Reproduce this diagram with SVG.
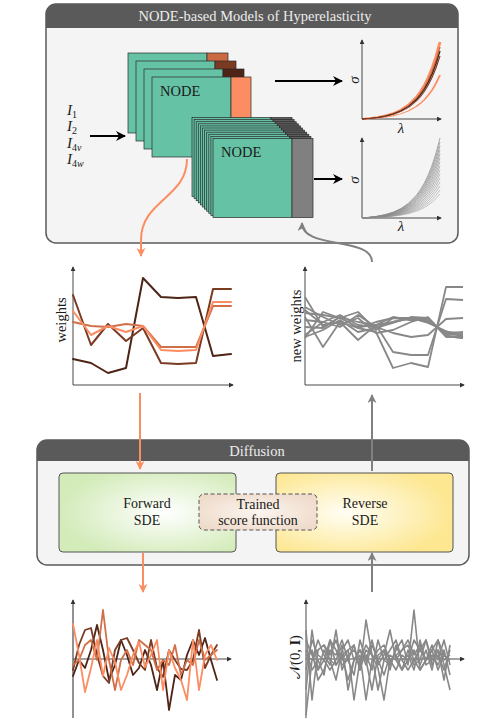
<svg xmlns="http://www.w3.org/2000/svg" xmlns:xlink="http://www.w3.org/1999/xlink" width="480" height="728" viewBox="0 0 480 728">
<style>
text{font-family:"Liberation Serif","DejaVu Serif",serif;fill:#1a1a1a}
.hdr{fill:#ececec;font-size:14.5px}
.panel{fill:#f4f4f4;stroke:#5a5a5a;stroke-width:1.5}
.hbar{fill:#5a5a5a}
.card{fill:#66c2a5;stroke:#2a2a2a;stroke-width:0.7}
.strip{stroke:#2a2a2a;stroke-width:0.7}
.axis{fill:none;stroke:#333;stroke-width:0.9}
.lbl{font-size:14.5px}
.sym{font-size:15px;font-style:italic}
.inp{font-size:15px;font-style:italic}
.sub{font-size:10px}
.ln{fill:none;stroke-linejoin:round;stroke-linecap:round}
.gw{fill:none;stroke:#888;stroke-width:1.8;stroke-linejoin:round}
.gn{fill:none;stroke:#888;stroke-width:1.6;stroke-linejoin:round}
.ex{fill:none;vector-effect:non-scaling-stroke}
.box{stroke:#555;stroke-width:1}
.btxt{font-size:14px;text-anchor:middle}
</style>
<defs>
<marker id="ab" viewBox="0 0 10 10" refX="9" refY="5" markerWidth="10" markerHeight="10" markerUnits="userSpaceOnUse" orient="auto"><path d="M0,0 L10,5 L0,10 L3,5 z" fill="#000"/></marker>
<marker id="ao" viewBox="0 0 10 10" refX="9" refY="5" markerWidth="9" markerHeight="9" markerUnits="userSpaceOnUse" orient="auto"><path d="M0,0 L10,5 L0,10 L3,5 z" fill="#fc8d62"/></marker>
<marker id="ag" viewBox="0 0 10 10" refX="9" refY="5" markerWidth="9" markerHeight="9" markerUnits="userSpaceOnUse" orient="auto"><path d="M0,0 L10,5 L0,10 L3,5 z" fill="#808080"/></marker>
<marker id="ax" viewBox="0 0 6 6" refX="5" refY="3" markerWidth="5" markerHeight="5" markerUnits="userSpaceOnUse" orient="auto"><path d="M0,0 L6,3 L0,6 z" fill="#333"/></marker>
<path id="exp" d="M0,0 L7.8,-0.918 L15.6,-2.287 L23.4,-4.329 L31.2,-7.375 L39,-11.92 L46.8,-18.70 L54.6,-28.82 L58.5,-35.61 L62.4,-43.91 L66.3,-54.04 L70.2,-66.42 L74.1,-81.53 L78,-100"/>
<radialGradient id="gF" cx="0.6" cy="0.5" r="0.6"><stop offset="0" stop-color="#ffffff"/><stop offset="1" stop-color="#d3ebb9"/></radialGradient>
<radialGradient id="gR" cx="0.4" cy="0.5" r="0.6"><stop offset="0" stop-color="#fffef5"/><stop offset="1" stop-color="#fde791"/></radialGradient>
<radialGradient id="gT" cx="0.5" cy="0.5" r="0.6"><stop offset="0" stop-color="#fbf5ef"/><stop offset="1" stop-color="#efdbca"/></radialGradient>
</defs>

<g id="panel-node">
<rect class="panel" x="46" y="4" width="412" height="239" rx="10"/>
<path class="hbar" d="M46,28 L46,14 A10,10 0 0 1 56,4 L448,4 A10,10 0 0 1 458,14 L458,28 Z"/>
<text class="hdr" x="255" y="21" text-anchor="middle">NODE-based Models of Hyperelasticity</text>
</g>

<g id="inputs">
<text class="inp" x="67" y="115">I<tspan class="sub" font-style="normal" dy="3">1</tspan></text>
<text class="inp" x="67" y="131">I<tspan class="sub" font-style="normal" dy="3">2</tspan></text>
<text class="inp" x="67" y="148">I<tspan class="sub" font-style="normal" dy="3">4</tspan><tspan class="sub">v</tspan></text>
<text class="inp" x="67" y="164">I<tspan class="sub" font-style="normal" dy="3">4</tspan><tspan class="sub">w</tspan></text>
</g>

<g id="node-stack-trained">
<rect class="card" x="128" y="53" width="79" height="80"/><rect class="strip" x="207" y="53" width="21" height="80" fill="#c96a43"/>
<rect class="card" x="136" y="61" width="79" height="80"/><rect class="strip" x="215" y="61" width="21" height="80" fill="#7b3b22"/>
<rect class="card" x="144" y="69" width="79" height="80"/><rect class="strip" x="223" y="69" width="21" height="80" fill="#4e2416"/>
<rect class="card" x="152" y="77" width="79" height="80"/><rect class="strip" x="231" y="77" width="20" height="80" fill="#fc8d62"/>
<text x="160" y="96" font-size="14.5">NODE</text>
</g>

<g id="node-stack-generated">
<rect class="card" x="192" y="117.5" width="79" height="79"/><rect class="strip" x="271" y="117.5" width="21" height="79" fill="#5e5e5e"/>
<rect class="card" x="194.1" y="119.6" width="79" height="79"/><rect class="strip" x="273.1" y="119.6" width="21" height="79" fill="#5e5e5e"/>
<rect class="card" x="196.2" y="121.7" width="79" height="79"/><rect class="strip" x="275.2" y="121.7" width="21" height="79" fill="#5e5e5e"/>
<rect class="card" x="198.3" y="123.8" width="79" height="79"/><rect class="strip" x="277.3" y="123.8" width="21" height="79" fill="#5e5e5e"/>
<rect class="card" x="200.4" y="125.9" width="79" height="79"/><rect class="strip" x="279.4" y="125.9" width="21" height="79" fill="#5e5e5e"/>
<rect class="card" x="202.5" y="128" width="79" height="79"/><rect class="strip" x="281.5" y="128" width="21" height="79" fill="#5e5e5e"/>
<rect class="card" x="204.6" y="130.1" width="79" height="79"/><rect class="strip" x="283.6" y="130.1" width="21" height="79" fill="#5e5e5e"/>
<rect class="card" x="206.7" y="132.2" width="79" height="79"/><rect class="strip" x="285.7" y="132.2" width="21" height="79" fill="#5e5e5e"/>
<rect class="card" x="208.8" y="134.3" width="79" height="79"/><rect class="strip" x="287.8" y="134.3" width="21" height="79" fill="#5e5e5e"/>
<rect class="card" x="210.9" y="136.4" width="79" height="79"/><rect class="strip" x="289.9" y="136.4" width="21" height="79" fill="#5e5e5e"/>
<rect class="card" x="213" y="138.5" width="79" height="79"/><rect class="strip" x="292" y="138.5" width="21" height="79" fill="#808080"/>
<text x="221" y="157" font-size="14.5">NODE</text>
</g>

<g id="plot-stress-trained">
<line class="axis" x1="362" y1="119" x2="362" y2="40" marker-end="url(#ax)"/>
<line class="axis" x1="362" y1="119" x2="441" y2="119" marker-end="url(#ax)"/>
<use href="#exp" class="ex" stroke="#fc8d62" stroke-width="2" transform="translate(362,119) scale(1,0.44)"/>
<use href="#exp" class="ex" stroke="#fc8d62" stroke-width="2.8" transform="translate(362,119) scale(1,0.77)"/>
<use href="#exp" class="ex" stroke="#c96a43" stroke-width="1.3" transform="translate(362,119) scale(1,0.72)"/>
<use href="#exp" class="ex" stroke="#4e2416" stroke-width="1.4" transform="translate(362,119) scale(1,0.68)"/>
<use href="#exp" class="ex" stroke="#7b3b22" stroke-width="1.2" transform="translate(362,119) scale(1,0.63)"/>
<text class="sym" transform="translate(359,80) rotate(-90)" text-anchor="middle">σ</text>
<text class="sym" x="401" y="133" text-anchor="middle">λ</text>
</g>

<g id="plot-stress-generated">
<line class="axis" x1="362" y1="218" x2="362" y2="138" marker-end="url(#ax)"/>
<line class="axis" x1="362" y1="218" x2="441" y2="218" marker-end="url(#ax)"/>
<g stroke="#8a8a8a" stroke-width="0.8">
<use href="#exp" class="ex" transform="translate(362,218) scale(1,0.80)"/>
<use href="#exp" class="ex" transform="translate(362,218) scale(1,0.76)"/>
<use href="#exp" class="ex" transform="translate(362,218) scale(1,0.72)"/>
<use href="#exp" class="ex" transform="translate(362,218) scale(1,0.68)"/>
<use href="#exp" class="ex" transform="translate(362,218) scale(1,0.64)"/>
<use href="#exp" class="ex" transform="translate(362,218) scale(1,0.60)"/>
<use href="#exp" class="ex" transform="translate(362,218) scale(1,0.56)"/>
<use href="#exp" class="ex" transform="translate(362,218) scale(1,0.52)"/>
<use href="#exp" class="ex" transform="translate(362,218) scale(1,0.48)"/>
<use href="#exp" class="ex" transform="translate(362,218) scale(1,0.44)"/>
<use href="#exp" class="ex" transform="translate(362,218) scale(1,0.40)"/>
<use href="#exp" class="ex" transform="translate(362,218) scale(1,0.36)"/>
<use href="#exp" class="ex" transform="translate(362,218) scale(1,0.32)"/>
<use href="#exp" class="ex" transform="translate(362,218) scale(1,0.28)"/>
<use href="#exp" class="ex" transform="translate(362,218) scale(1,0.24)"/>
</g>
<text class="sym" transform="translate(359,180) rotate(-90)" text-anchor="middle">σ</text>
<text class="sym" x="401" y="231" text-anchor="middle">λ</text>
</g>

<g id="plot-weights">
<line class="axis" x1="73" y1="385" x2="73" y2="267" marker-end="url(#ax)"/>
<line class="axis" x1="73" y1="385" x2="233" y2="385" marker-end="url(#ax)"/>
<polyline class="ln" stroke="#4e2416" stroke-width="2" points="73,359 91,363 108,373 126,368 143,278 161,297 178,298 196,297 213,356 231,354"/>
<polyline class="ln" stroke="#7b3b22" stroke-width="2" points="73,295 91,345 108,324 126,341 143,328 161,363 178,364 196,363 213,289 231,289"/>
<polyline class="ln" stroke="#d06f48" stroke-width="2" points="73,322 91,326 108,327 126,324 143,326 161,347 178,347 196,347 213,306 231,306"/>
<polyline class="ln" stroke="#fc8d62" stroke-width="2" points="73,311 91,335 108,326 126,332 143,326 161,350 178,351 196,350 213,302 231,302"/>
<text class="lbl" transform="translate(66,320) rotate(-90)" text-anchor="middle">weights</text>
</g>

<g id="plot-new-weights">
<line class="axis" x1="305" y1="385" x2="305" y2="267" marker-end="url(#ax)"/>
<line class="axis" x1="305" y1="385" x2="464" y2="385" marker-end="url(#ax)"/>
<polyline class="gw" points="305,297 323,327 340,317 358,322 376,325 393,317 411,320 428,318 446,336 463,338"/>
<polyline class="gw" points="305,338 323,312 340,318 358,312 376,330 393,318 411,318 428,320 446,334 463,335"/>
<polyline class="gw" points="305,317 323,347 340,322 358,340 376,325 393,352 411,355 428,355 446,299 463,300"/>
<polyline class="gw" points="305,310 323,325 340,322 358,328 376,332 393,368 411,363 428,367 446,287 463,287"/>
<polyline class="gw" points="305,320 323,322 340,315 358,325 376,327 393,333 411,337 428,335 446,319 463,318"/>
<polyline class="gw" points="305,307 323,317 340,325 358,318 376,333 393,330 411,322 428,317 446,337 463,336"/>
<polyline class="gw" points="305,335 323,322 340,327 358,315 376,327 393,322 411,318 428,322 446,332 463,333"/>
<polyline class="gw" points="305,327 323,328 340,317 358,328 376,322 393,318 411,320 428,320 446,334 463,332"/>
<polyline class="gw" points="305,313 323,315 340,318 358,327 376,325 393,322 411,318 428,323 446,331 463,337"/>
<polyline class="gw" points="305,337 323,330 340,320 358,332 376,328 393,323 411,317 428,318 446,336 463,338"/>
<text class="lbl" transform="translate(301,326) rotate(-90)" text-anchor="middle">new weights</text>
</g>

<g id="panel-diffusion">
<rect class="panel" x="37" y="440" width="432" height="125" rx="10"/>
<path class="hbar" d="M37,461 L37,450 A10,10 0 0 1 47,440 L459,440 A10,10 0 0 1 469,450 L469,461 Z"/>
<text class="hdr" x="257" y="456" text-anchor="middle">Diffusion</text>
</g>

<g id="forward-sde">
<rect class="box" x="59" y="473" width="177" height="79" rx="4" fill="url(#gF)"/>
<text class="btxt" x="147" y="508">Forward</text>
<text class="btxt" x="147" y="525">SDE</text>
</g>

<g id="reverse-sde">
<rect class="box" x="276" y="473" width="177" height="79" rx="4" fill="url(#gR)"/>
<text class="btxt" x="365" y="508">Reverse</text>
<text class="btxt" x="365" y="525">SDE</text>
</g>

<g id="score-function">
<rect class="box" x="199" y="494" width="118" height="36" rx="5" fill="url(#gT)" stroke-dasharray="4,2.5"/>
<text class="btxt" x="258" y="509">Trained</text>
<text class="btxt" x="258" y="525">score function</text>
</g>

<g id="plot-noise">
<line x1="73" y1="718" x2="73" y2="600" stroke="#777" stroke-width="1.6" marker-end="url(#ax)"/>
<line class="axis" x1="73" y1="659" x2="231" y2="659" marker-end="url(#ax)"/>
<polyline class="ln" stroke="#4e2416" stroke-width="1.8" points="73,676 79,660 85,668 91,650 97,625 103,650 109,680 115,665 121,640 127,655 133,675 139,668 145,650 151,665 157,690 163,660 169,710 175,675 181,680 187,655 193,640 199,655 205,638 211,660 217,680"/>
<polyline class="ln" stroke="#7b3b22" stroke-width="1.8" points="73,670 79,645 85,630 91,628 97,655 103,676 109,683 115,650 121,640 127,638 133,650 139,663 145,670 151,640 157,668 163,677 169,650 175,660 181,669 187,670 193,660 199,630 205,668 211,655 217,645"/>
<polyline class="ln" stroke="#d06f48" stroke-width="1.8" points="73,665 79,660 85,645 91,640 97,660 103,610 109,660 115,690 121,660 127,650 133,665 139,640 145,645 151,650 157,670 163,660 169,665 175,645 181,675 187,660 193,665 199,640 205,660 211,655 217,650"/>
<polyline class="ln" stroke="#fc8d62" stroke-width="1.8" points="73,624 79,655 85,692 91,668 97,640 103,676 109,648 115,662 121,690 127,675 133,655 139,642 145,667 151,655 157,640 163,690 169,650 175,668 181,680 187,700 193,640 199,690 205,655 211,645 217,660"/>
</g>

<g id="plot-normal">
<line class="axis" x1="306" y1="718" x2="306" y2="600" marker-end="url(#ax)"/>
<line class="axis" x1="306" y1="659" x2="464" y2="659" marker-end="url(#ax)"/>
<polyline class="gn" points="306,630 312,700 318,650 324,645 330,655 336,640 342,660 348,650 354,645 360,670 366,620 372,655 378,668 384,700 390,660 396,655 402,650 408,640 414,655 420,645 426,660 432,650 438,670 444,655 450,660"/>
<polyline class="gn" points="306,690 312,630 318,670 324,660 330,640 336,665 342,655 348,680 354,660 360,650 366,660 372,640 378,665 384,655 390,630 396,660 402,670 408,650 414,665 420,660 426,640 432,660 438,655 444,670 450,650"/>
<polyline class="gn" points="306,655 312,660 318,640 324,655 330,665 336,630 342,670 348,655 354,650 360,660 366,655 372,670 378,640 384,660 390,665 396,650 402,640 408,665 414,610 420,670 426,660 432,645 438,660 444,640 450,665"/>
<polyline class="gn" points="306,660 312,650 318,680 324,670 330,650 336,655 342,640 348,660 354,675 360,640 366,660 372,690 378,655 384,650 390,660 396,670 402,655 408,660 414,650 420,665 426,650 432,670 438,640 444,665 450,690"/>
<polyline class="gn" points="306,715 312,660 318,650 324,645 330,660 336,680 342,650 348,640 354,660 360,655 366,700 372,660 378,650 384,645 390,660 396,655 402,670 408,660 414,640 420,650 426,660 432,655 438,665 444,650 450,675"/>
<polyline class="gn" points="306,650 312,670 318,660 324,675 330,640 336,650 342,665 348,660 354,645 360,670 366,650 372,655 378,690 384,660 390,650 396,640 402,660 408,670 414,660 420,650 426,640 432,665 438,650 444,660 450,655"/>
<polyline class="gn" points="306,670 312,640 318,655 324,660 330,670 336,660 342,645 348,690 354,660 360,650 366,665 372,645 378,660 384,675 390,655 396,660 402,650 408,645 414,660 420,670 426,660 432,650 438,640 444,655 450,660"/>
<polyline class="gn" points="306,640 312,655 318,670 324,650 330,660 336,665 342,655 348,650 354,700 360,660 366,645 372,655 378,660 384,650 390,670 396,645 402,660 408,655 414,670 420,640 426,665 432,660 438,650 444,680 450,645"/>
<text class="lbl" transform="translate(300,657) rotate(-90)" text-anchor="middle"><tspan font-family="DejaVu Serif, serif">𝒩</tspan>(0, <tspan font-weight="bold">I</tspan>)</text>
</g>

<g id="connectors" fill="none">
<line x1="90" y1="136" x2="125" y2="136" stroke="#000" stroke-width="2" marker-end="url(#ab)"/>
<line x1="275" y1="81" x2="342" y2="81" stroke="#000" stroke-width="2" marker-end="url(#ab)"/>
<line x1="314" y1="179" x2="342" y2="179" stroke="#000" stroke-width="2" marker-end="url(#ab)"/>
<path d="M187,159 C187,198 141,200 141,240 L141,256" stroke="#fc8d62" stroke-width="2" marker-end="url(#ao)"/>
<path d="M372,262 C372,236 302,250 302,223" stroke="#808080" stroke-width="2" marker-end="url(#ag)"/>
<line x1="140" y1="393" x2="140" y2="469" stroke="#fc8d62" stroke-width="2" marker-end="url(#ao)"/>
<line x1="372" y1="471" x2="372" y2="395" stroke="#808080" stroke-width="2" marker-end="url(#ag)"/>
<line x1="143" y1="553" x2="143" y2="592" stroke="#fc8d62" stroke-width="2" marker-end="url(#ao)"/>
<line x1="372" y1="592" x2="372" y2="553" stroke="#808080" stroke-width="2" marker-end="url(#ag)"/>
</g>
</svg>
